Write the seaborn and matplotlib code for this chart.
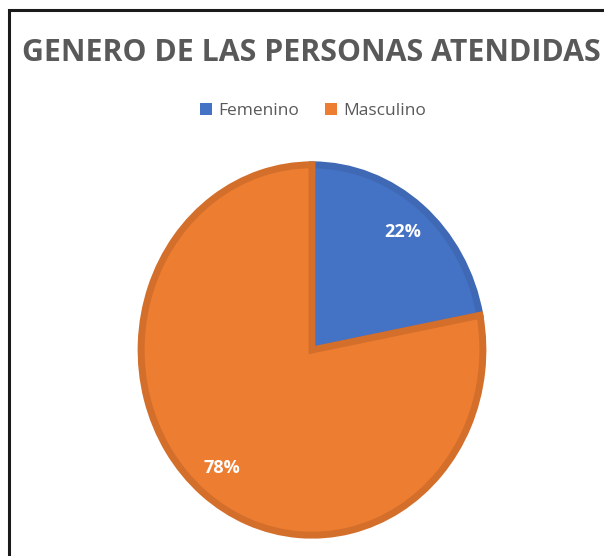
import matplotlib
matplotlib.use("Agg")
import matplotlib.pyplot as plt
from matplotlib.patches import Patch, Rectangle
import seaborn as sns

# Data
categories = ["Femenino", "Masculino"]
percentages = [22, 78]
slice_colors = ["#4472C4", "#ED7D31"]
edge_colors = ["#3F69B4", "#D46F2B"]
title_text = "GENERO DE LAS PERSONAS ATENDIDAS"


def main():
    sns.set_theme(style="white")
    plt.rcParams["font.family"] = ["Open Sans", "DejaVu Sans"]

    W, H = 604, 556
    fig = plt.figure(figsize=(W / 100, H / 100), dpi=100)
    fig.patch.set_facecolor("white")

    # pie area (slightly stretched, like the original screenshot)
    cx, cy, rx, ry = 312, 350, 173.5, 188
    ax = fig.add_axes([(cx - rx) / W, 1 - (cy + ry) / H, 2 * rx / W, 2 * ry / H])

    wedges, texts, autotexts = ax.pie(
        percentages,
        colors=slice_colors,
        startangle=90,
        counterclock=False,
        radius=0.985,
        autopct="%1.0f%%",
        pctdistance=0.83,
        wedgeprops={"linewidth": 5, "joinstyle": "miter"},
        textprops={"color": "white", "fontsize": 13, "fontweight": "bold"},
    )
    for w, ec in zip(wedges, edge_colors):
        w.set_edgecolor(ec)
    ax.set_aspect("auto")
    ax.set_xlim(-1, 1)
    ax.set_ylim(-1, 1)
    ax.axis("off")

    # title
    fig.text(22 / W, 1 - 53 / H, title_text, ha="left", va="center",
             fontsize=21.8, fontweight="bold", color="#595959")

    # legend
    handles = [Patch(facecolor=c, edgecolor="none") for c in slice_colors]
    fig.legend(handles, categories, loc="center", bbox_to_anchor=(313 / W, 1 - 111 / H),
               ncol=2, frameon=False, fontsize=12.5, labelcolor="#595959",
               handlelength=0.7, handleheight=0.7, handletextpad=0.35, columnspacing=1.5)

    # chart frame (left and top borders visible)
    fig.add_artist(Rectangle((8.5 / W, -0.1), 1.2, 1 - 9.5 / H + 0.1,
                             transform=fig.transFigure, fill=False,
                             edgecolor="#1a1a1a", linewidth=2.2))

    fig.savefig("out.png", dpi=100)


if __name__ == "__main__":
    main()
